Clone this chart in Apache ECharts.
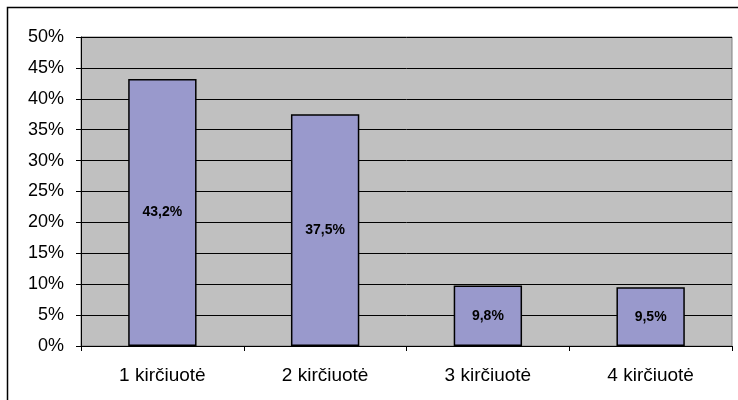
<!DOCTYPE html>
<html lang="lt">
<head>
    <meta charset="UTF-8">
    <title>Kirčiuotės</title>
    <script type="text/javascript" src="https://cdn.jsdelivr.net/npm/echarts@6/dist/echarts.min.js"></script>
    <style>
        body { margin: 0; background: #fff; }
    </style>
</head>
<body>
<div id="main" style="width: 738px;height:400px;"></div>
<script type="text/javascript">
    var categories = ['1 kirčiuotė', '2 kirčiuotė', '3 kirčiuotė', '4 kirčiuotė'];
    var values = [43.2, 37.5, 9.8, 9.5];

    var font = '"Liberation Sans", Arial, sans-serif';

    var option = {
        animation: false,
        graphic: [{
            type: 'rect',
            shape: { x: 7.5, y: 7.5, width: 760, height: 420 },
            style: { fill: 'none', stroke: '#000', lineWidth: 1.5 },
            silent: true
        }],
        grid: {
            left: 81,
            top: 37,
            right: 6,
            bottom: 54,
            show: true,
            backgroundColor: '#c0c0c0',
            borderColor: '#808080',
            borderWidth: 1
        },
        xAxis: {
            type: 'category',
            data: categories,
            axisLine: { lineStyle: { color: '#000', width: 1 } },
            axisTick: { show: true, length: 5, lineStyle: { color: '#000' } },
            axisLabel: { color: '#000', fontFamily: font, fontSize: 19, margin: 20 }
        },
        yAxis: {
            type: 'value',
            min: 0,
            max: 50,
            interval: 5,
            axisLine: { show: true, lineStyle: { color: '#000', width: 1 } },
            axisTick: { show: true, length: 5, lineStyle: { color: '#000' } },
            axisLabel: {
                color: '#000', fontFamily: font, fontSize: 18, margin: 17,
                formatter: '{value}%'
            },
            splitLine: { show: true, lineStyle: { color: '#000', width: 1 } }
        },
        series: [{
            type: 'bar',
            data: values,
            barWidth: '42%',
            itemStyle: { color: '#9999cc', borderColor: '#000', borderWidth: 1.5 },
            label: {
                show: true,
                position: 'inside',
                color: '#000',
                fontFamily: font,
                fontWeight: 'bold',
                fontSize: 14,
                formatter: function (p) {
                    return String(p.value).replace('.', ',') + '%';
                }
            }
        }]
    };

    var myChart = echarts.init(document.getElementById('main'));
    myChart.setOption(option);
</script>
</body>
</html>
